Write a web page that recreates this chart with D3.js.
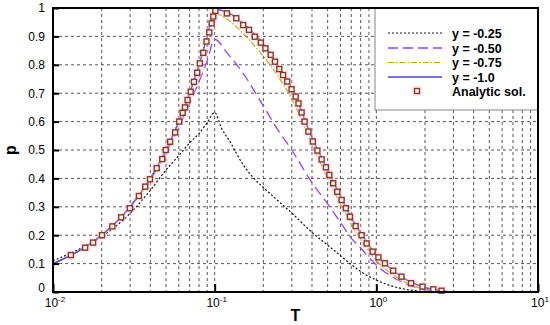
<!DOCTYPE html>
<html><head><meta charset="utf-8">
<script src="https://cdn.jsdelivr.net/npm/d3@7/dist/d3.min.js"></script>
<style>body{margin:0;background:#fff}svg{display:block}</style>
</head><body>
<svg id="c" width="550" height="325"></svg>
<script>
// ---------- data ----------
const yTicks = [0,0.1,0.2,0.3,0.4,0.5,0.6,0.7,0.8,0.9,1];
const xMajor = [0.01,0.1,1,10];
const xMajorExp = ["-2","-1","0","1"];
const seriesNames = ["y = -0.25","y = -0.50","y = -0.75","y = -1.0","Analytic sol."];

const tY025 = [0.01,0.015,0.02,0.03,0.04,0.05,0.06,0.07,0.08,0.09,0.1,0.11,0.125,0.15,0.175,0.2,0.25,0.3,0.4,0.5,0.6,0.7,0.8,1.0,1.2,1.5,2.0,2.6];
const pY025 = [0.11,0.155,0.195,0.277,0.358,0.43,0.48,0.525,0.558,0.597,0.632,0.578,0.527,0.448,0.40,0.368,0.318,0.278,0.21,0.165,0.128,0.097,0.072,0.042,0.024,0.01,0.002,0.0];

const tY050 = [0.01,0.015,0.02,0.03,0.04,0.05,0.06,0.07,0.08,0.09,0.1,0.12,0.15,0.2,0.25,0.3,0.4,0.5,0.6,0.7,0.8,1.0,1.2,1.5,2.0,2.6];
const pY050 = [0.10,0.15,0.20,0.30,0.395,0.49,0.58,0.665,0.74,0.815,0.89,0.84,0.77,0.655,0.565,0.50,0.385,0.31,0.245,0.19,0.155,0.095,0.06,0.03,0.008,0.001];

const tY075 = [0.01,0.015,0.02,0.03,0.04,0.05,0.06,0.07,0.08,0.09,0.1,0.12,0.15,0.2,0.25,0.3,0.4,0.5,0.6,0.7,0.8,1.0,1.2,1.5,2.0,2.7];
const pY075 = [0.10,0.15,0.20,0.30,0.40,0.50,0.60,0.70,0.80,0.90,0.98,0.96,0.91,0.83,0.755,0.68,0.52,0.40,0.31,0.24,0.185,0.11,0.07,0.035,0.01,0.001];

const tY100 = [0.01,0.015,0.02,0.03,0.04,0.05,0.06,0.07,0.08,0.09,0.1,0.12,0.15,0.2,0.25,0.3,0.4,0.5,0.6,0.7,0.8,1.0,1.2,1.5,2.0,2.5,2.8];
const pY100 = [0.10,0.15,0.20,0.30,0.40,0.50,0.60,0.70,0.80,0.90,0.995,0.985,0.945,0.873,0.79,0.718,0.543,0.43,0.336,0.262,0.208,0.13,0.087,0.046,0.016,0.005,0.001];

const tAnalytic = [0.0129,0.0158,0.0177,0.0201,0.0233,0.0264,0.0299,0.034,0.0372,0.0398,0.0438,0.0474,0.0498,0.053,0.0569,0.0604,0.0634,0.0655,0.068,0.0711,0.0745,0.078,0.081,0.085,0.089,0.0926,0.0958,0.098,0.101,
  0.119,0.136,0.150,0.163,0.177,0.193,0.206,0.222,0.236,0.251,0.265,0.281,0.299,0.317,0.330,0.345,0.360,0.380,0.405,0.432,0.459,0.488,0.512,0.541,0.573,0.610,0.648,0.687,0.745,0.811,0.871,0.949,1.03,1.13,1.27,1.43,1.64,1.93,2.25,2.53];
const pAnalytic = [0.13,0.156,0.174,0.20,0.231,0.263,0.295,0.338,0.371,0.397,0.436,0.468,0.50,0.529,0.562,0.60,0.631,0.650,0.676,0.705,0.74,0.772,0.805,0.842,0.882,0.914,0.946,0.97,0.99,
  0.981,0.964,0.940,0.923,0.899,0.878,0.858,0.835,0.811,0.785,0.764,0.741,0.714,0.688,0.664,0.632,0.600,0.565,0.530,0.498,0.467,0.439,0.412,0.383,0.353,0.324,0.295,0.265,0.232,0.20,0.171,0.142,0.122,0.101,0.075,0.054,0.031,0.019,0.0095,0.0046];

// ---------- layout ----------
const svg = d3.select("#c");
const L = 53, R = 538, T = 8, B = 292;
const x = d3.scaleLog().domain([0.01,10]).range([L,R]);
const y = d3.scaleLinear().domain([0,1]).range([B,T]);
const font = "'Liberation Sans', Arial, Helvetica, sans-serif";

// grid
const gridX = [];
[0.01,0.1,1].forEach(d => { for (let k=1;k<10;k++) gridX.push(d*k); });
const g = svg.append("g");
g.selectAll("line.gx").data(gridX.filter(v => v>0.0100001)).join("line")
  .attr("x1", d=>x(d)).attr("x2", d=>x(d)).attr("y1", T).attr("y2", B)
  .attr("stroke","#555").attr("stroke-width",1).attr("stroke-dasharray","3,3");
g.selectAll("line.gy").data(yTicks.filter(v=>v>0 && v<1)).join("line")
  .attr("x1", L).attr("x2", R).attr("y1", d=>y(d)).attr("y2", d=>y(d))
  .attr("stroke","#555").attr("stroke-width",1).attr("stroke-dasharray","3,3");

// series lines
const line = d3.line().x(d=>x(d[0])).y(d=>y(d[1])).curve(d3.curveMonotoneX);
const zip = (a,b) => a.map((v,i)=>[v,b[i]]);
const styles = [
  {t:tY025,p:pY025,color:"#111",dash:"2,2",w:1.2},
  {t:tY050,p:pY050,color:"#9a3ff0",dash:"10,5",w:1.3},
  {t:tY075,p:pY075,color:"#c9a400",dash:"6,2,1.5,2",w:1.2},
  {t:tY100,p:pY100,color:"#4d42d6",dash:null,w:1.5}
];
styles.forEach(s => {
  svg.append("path").datum(zip(s.t,s.p)).attr("d", line)
    .attr("fill","none").attr("stroke",s.color).attr("stroke-width",s.w)
    .attr("stroke-dasharray", s.dash);
});

// analytic markers
const pts = zip(tAnalytic,pAnalytic);
svg.append("g").selectAll("rect").data(pts).join("rect")
  .attr("x", d=>x(d[0])-5).attr("y", d=>y(d[1])-5).attr("width",10).attr("height",10)
  .attr("fill","#ffc4f0").attr("opacity",0.3);
svg.append("g").selectAll("rect").data(pts).join("rect")
  .attr("x", d=>x(d[0])-2.5).attr("y", d=>y(d[1])-2.5).attr("width",5).attr("height",5)
  .attr("fill","#fff3f8").attr("stroke","#8b3a1a").attr("stroke-width",1.4);

// axes
const ya = svg.append("g").attr("transform",`translate(${L},0)`)
  .call(d3.axisLeft(y).tickValues(yTicks).tickSize(-6).tickPadding(8)
        .tickFormat(d => d===0 ? "0" : d===1 ? "1" : d3.format(".1f")(d)));
ya.select(".domain").remove();
ya.selectAll("line").attr("stroke","#000").attr("stroke-width",2);
ya.selectAll("text").attr("font-family",font).attr("font-size",12).attr("fill","#000")
  .attr("dy", d => d===0 ? "-0.05em" : "0.32em");

const xa = svg.append("g").attr("transform",`translate(0,${B})`)
  .call(d3.axisBottom(x).tickValues(xMajor).tickSize(-8).tickFormat(""));
xa.select(".domain").remove();
xa.selectAll("line").attr("stroke","#000").attr("stroke-width",2);
const xl = svg.append("g").selectAll("text").data(xMajor).join("text")
  .attr("x", d=>x(d)+2).attr("y", B+15).attr("text-anchor","middle")
  .attr("font-family",font).attr("font-size",12).attr("fill","#000");
xl.append("tspan").text("10");
xl.append("tspan").attr("dy",-5).attr("font-size",8).text((d,i)=>xMajorExp[i]);

// legend
const lg = svg.append("g");
lg.append("rect").attr("x",375).attr("y",T).attr("width",R-375).attr("height",102)
  .attr("fill","#fff").attr("stroke","#999").attr("stroke-width",1.2);
const rowY = [33,48,62.5,77,91];
styles.forEach((s,i) => {
  lg.append("line").attr("x1",388).attr("x2",442).attr("y1",rowY[i]).attr("y2",rowY[i])
    .attr("stroke",s.color).attr("stroke-width",s.w).attr("stroke-dasharray",s.dash);
});
lg.append("rect").attr("x",412).attr("y",rowY[4]-5).attr("width",10).attr("height",10)
  .attr("fill","#ffc4f0").attr("opacity",0.3);
lg.append("rect").attr("x",414.5).attr("y",rowY[4]-2.5).attr("width",5).attr("height",5)
  .attr("fill","#fff3f8").attr("stroke","#8b3a1a").attr("stroke-width",1.4);
lg.selectAll("text").data(seriesNames).join("text")
  .attr("x",452).attr("y",(d,i)=>rowY[i]+4.5)
  .attr("font-family",font).attr("font-weight","bold").attr("font-size",12.5).attr("fill","#000")
  .text(d=>d);

// frame
svg.append("rect").attr("x",L).attr("y",T).attr("width",R-L).attr("height",B-T)
  .attr("fill","none").attr("stroke","#000").attr("stroke-width",2);

// axis titles
svg.append("text").attr("x",(L+R)/2).attr("y",321).attr("text-anchor","middle")
  .attr("font-family",font).attr("font-weight","bold").attr("font-size",16).text("T");
svg.append("text").attr("transform","translate(16,150) rotate(-90)").attr("text-anchor","middle")
  .attr("font-family",font).attr("font-weight","bold").attr("font-size",16).text("p");
</script>
</body></html>
